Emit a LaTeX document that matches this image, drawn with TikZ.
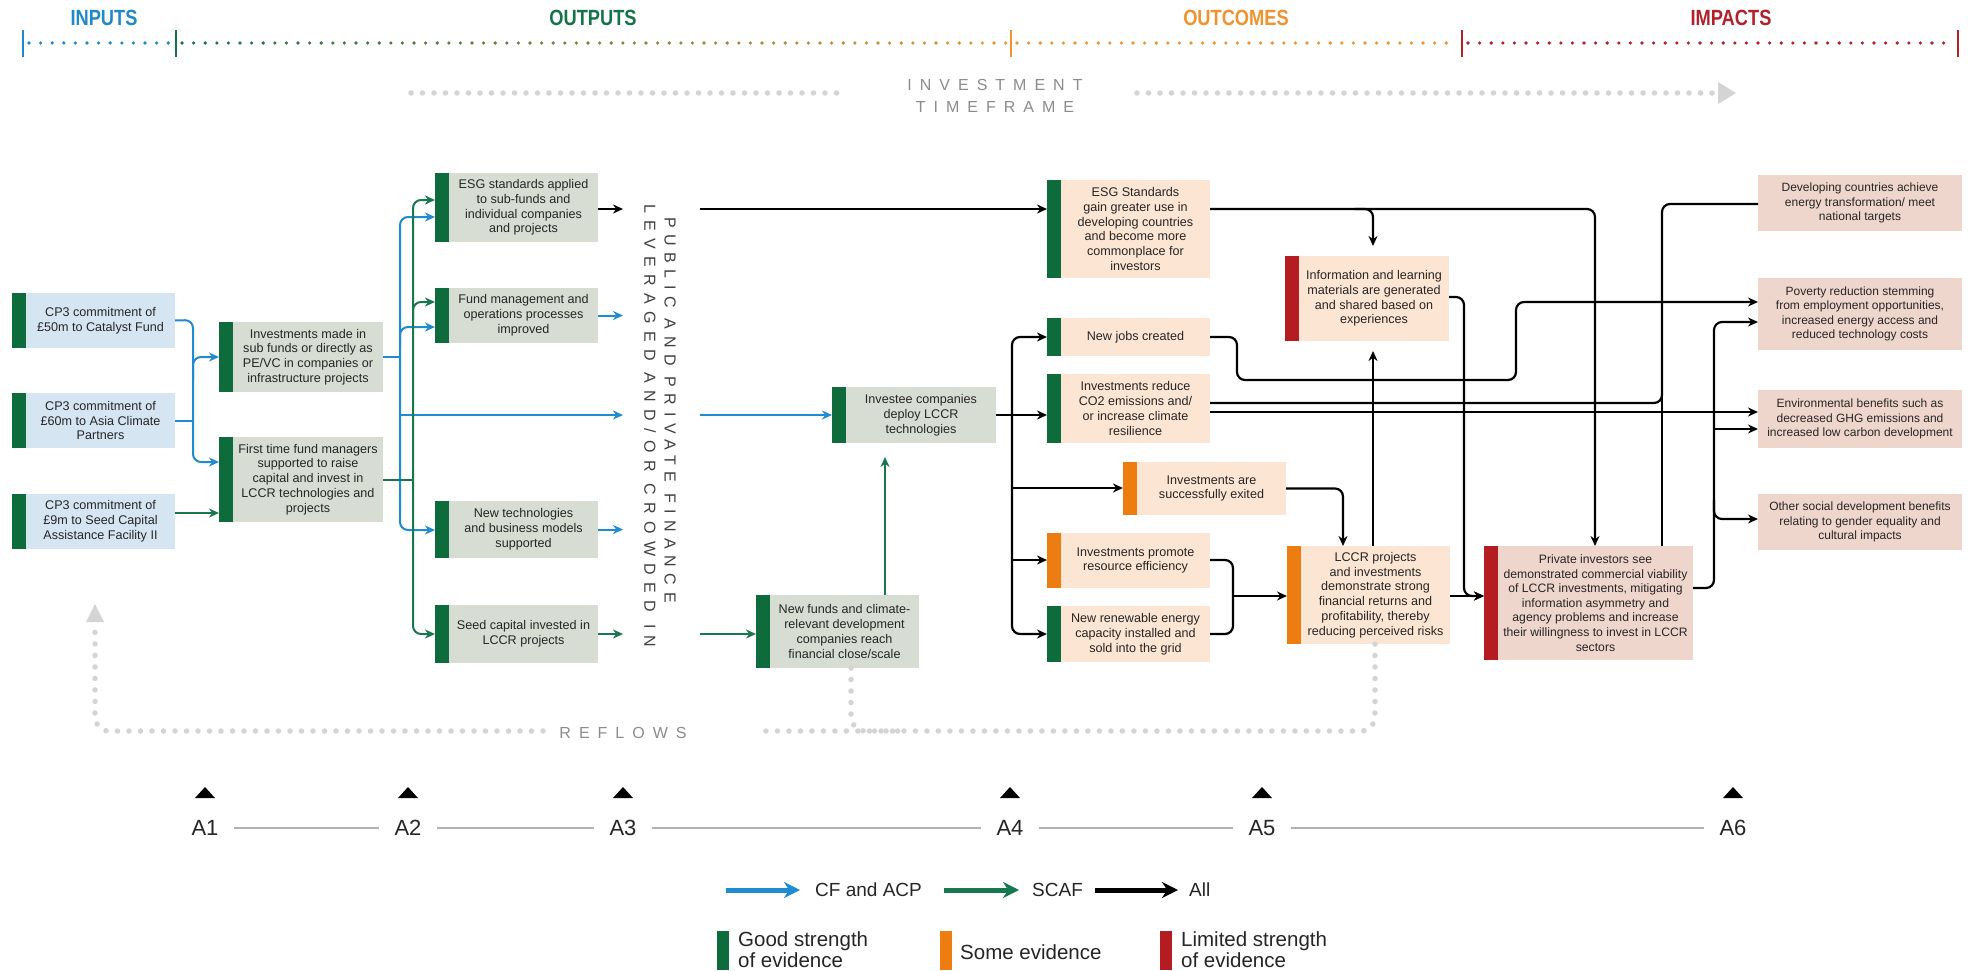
\documentclass[tikz,border=0pt]{standalone}
\usepackage{fontspec}
\setmainfont{Liberation Sans}
\newfontfamily\spacedfontA[LetterSpace=41]{Liberation Sans}
\newfontfamily\spacedfontB[LetterSpace=46]{Liberation Sans}
\newfontfamily\widefont[LetterSpace=50]{Liberation Sans}
\usetikzlibrary{arrows.meta}
\definecolor{cfblue}{HTML}{1F8BD0}
\definecolor{scgreen}{HTML}{17774F}
\definecolor{evgreen}{HTML}{0D6B3C}
\definecolor{evorange}{HTML}{EE7D11}
\definecolor{evred}{HTML}{B51C22}
\definecolor{inbox}{HTML}{D6E5F2}
\definecolor{outbox}{HTML}{D8DDD4}
\definecolor{ocbox}{HTML}{FCE5D3}
\definecolor{imbox}{HTML}{EFD6CC}
\definecolor{hblue}{HTML}{2089C9}
\definecolor{hgreen}{HTML}{15734A}
\definecolor{horange}{HTML}{F0922E}
\definecolor{hred}{HTML}{B3202A}
\definecolor{dotgray}{HTML}{D4D4D4}
\definecolor{txtgray}{HTML}{8C8C8C}
\tikzset{
  bx/.style={inner sep=0pt, outer sep=0pt, anchor=north west, font=\fontsize{12.6}{14.8}\selectfont, text=black!85},
  bar/.style={path picture={\fill[#1] (path picture bounding box.north west) rectangle ([xshift=14pt]path picture bounding box.south west);}},
  cfl/.style={draw=cfblue, line width=2pt, rounded corners=8pt},
  scl/.style={draw=scgreen, line width=2pt, rounded corners=8pt},
  bkl/.style={draw=black, line width=2.2pt, rounded corners=8pt},
  arr/.style={-{Stealth[length=10pt,width=9pt]}},
  arrb/.style={{Stealth[length=10pt,width=9pt]}-{Stealth[length=10pt,width=9pt]}},
  dotg/.style={draw=dotgray, line width=5.5pt, line cap=round, dash pattern=on 0pt off 11.5pt, rounded corners=14pt},
  hdr/.style={font=\fontsize{22}{22}\selectfont\bfseries},
  lg/.style={font=\fontsize{19}{20}\selectfont, text=black!85, align=left, inner sep=0pt},
  lg2/.style={font=\fontsize{20.5}{21}\selectfont, text=black!85, align=left, inner sep=0pt},
  alab/.style={font=\fontsize{22}{22}\selectfont, text=black!85},
  legarr/.style={line width=5pt, -{Stealth[length=16pt,width=16pt]}},
  vtext/.style={rotate=-90, text=black!75, inner sep=0pt},
}
\newcommand\bxn[8]{\node[bx, fill=#6, bar=#7, minimum width=#4pt, minimum height=#5pt] (#1) at (#2,#3) {\hspace*{14pt}\parbox{\dimexpr#4pt-14pt\relax}{\centering #8}};}
\newcommand\imn[6]{\node[bx, fill=imbox, minimum width=#4pt, minimum height=#5pt, font=\fontsize{12}{14.5}\selectfont] (#1) at (#2,#3) {\parbox{#4pt}{\centering #6}};}
\begin{document}
\begin{tikzpicture}[x=1pt,y=-1pt]
\useasboundingbox (0,0) rectangle (1981,971);
\fill[white] (0,0) rectangle (1981,971);
% ---------- header ----------
\node[hdr, text=hblue] (hin) at (104,18) {\scalebox{0.83}[1]{INPUTS}};
\node[hdr, text=hgreen] (hout) at (593,18) {\scalebox{0.83}[1]{OUTPUTS}};
\node[hdr, text=horange] (hoc) at (1236,18) {\scalebox{0.83}[1]{OUTCOMES}};
\node[hdr, text=hred] (him) at (1731,18) {\scalebox{0.83}[1]{IMPACTS}};
\foreach \i in {0,...,12} {\fill[hblue] ({29+\i*11.6},43) circle (1.8);}
\foreach \i in {0,...,71} {\pgfmathtruncatemacro\p{100*\i/71}\fill[horange!\p!hgreen] ({182+\i*11.6},43) circle (1.8);}
\foreach \i in {0,...,37} {\fill[horange] ({1017+\i*11.6},43) circle (1.8);}
\foreach \i in {0,...,41} {\fill[hred] ({1468+\i*11.6},43) circle (1.8);}
\draw[hblue, line width=2pt] (23,30) -- (23,57);
\draw[hgreen, line width=2pt] (176,30) -- (176,57);
\draw[horange, line width=2pt] (1011,30) -- (1011,57);
\draw[hred, line width=2pt] (1462,30) -- (1462,57);
\draw[hred, line width=2pt] (1958,30) -- (1958,57);
% ---------- investment timeframe ----------
\node[align=center, text=txtgray, font=\widefont\fontsize{16}{22}\selectfont] (itf) at (995,96) {INVESTMENT\\TIMEFRAME};
\draw[dotg] (411,93) -- (842,93);
\draw[dotg] (1137,93) -- (1712,93);
\fill[dotgray] (1718,82) -- (1736,93) -- (1718,104) -- cycle;
% ---------- inputs ----------
\bxn{in1}{12}{293}{163}{55}{inbox}{evgreen}{CP3 commitment of\\£50m to Catalyst Fund}
\bxn{in2}{12}{393}{163}{55}{inbox}{evgreen}{CP3 commitment of\\£60m to Asia Climate\\Partners}
\bxn{in3}{12}{494}{163}{55}{inbox}{evgreen}{CP3 commitment of\\£9m to Seed Capital\\Assistance Facility II}
% ---------- outputs ----------
\bxn{inv}{219}{322}{164}{70}{outbox}{evgreen}{Investments made in\\sub funds or directly as\\PE/VC in companies or\\infrastructure projects}
\bxn{ftm}{219}{437}{164}{85}{outbox}{evgreen}{First time fund managers\\supported to raise\\capital and invest in\\LCCR technologies and\\projects}
\bxn{esga}{435}{173}{163}{69}{outbox}{evgreen}{ESG standards applied\\to sub-funds and\\individual companies\\and projects}
\bxn{fund}{435}{288}{163}{55}{outbox}{evgreen}{Fund management and\\operations processes\\improved}
\bxn{newt}{435}{501}{163}{57}{outbox}{evgreen}{New technologies\\and business models\\supported}
\bxn{seed}{435}{605}{163}{58}{outbox}{evgreen}{Seed capital invested in\\LCCR projects}
\bxn{newf}{756}{595}{163}{73}{outbox}{evgreen}{New funds and climate-\\relevant development\\companies reach\\financial close/scale}
\bxn{invest}{832}{387}{164}{56}{outbox}{evgreen}{Investee companies\\deploy LCCR\\technologies}
\node[vtext, font=\spacedfontA\fontsize{16}{20}\selectfont] (pub1) at (670,410) {PUBLIC AND PRIVATE FINANCE};
\node[vtext, font=\spacedfontB\fontsize{16}{20}\selectfont] (pub2) at (650,426) {LEVERAGED AND/OR CROWDED IN};
\coordinate (pubL) at (623,424);
\coordinate (pubR) at (700,424);
% ---------- outcomes ----------
\bxn{esgs}{1047}{180}{163}{98}{ocbox}{evgreen}{ESG Standards\\gain greater use in\\developing countries\\and become more\\commonplace for\\investors}
\bxn{jobs}{1047}{318}{163}{38}{ocbox}{evgreen}{New jobs created}
\bxn{co2}{1047}{374}{163}{69}{ocbox}{evgreen}{Investments reduce\\CO2 emissions and/\\or increase climate\\resilience}
\bxn{exit}{1123}{462}{163}{53}{ocbox}{evorange}{Investments are\\successfully exited}
\bxn{promo}{1047}{533}{163}{55}{ocbox}{evorange}{Investments promote\\resource efficiency}
\bxn{renew}{1047}{606}{163}{56}{ocbox}{evgreen}{New renewable energy\\capacity installed and\\sold into the grid}
\bxn{lccr}{1287}{546}{163}{98}{ocbox}{evorange}{LCCR projects\\and investments\\demonstrate strong\\financial returns and\\profitability, thereby\\reducing perceived risks}
\bxn{info}{1285}{256}{164}{85}{ocbox}{evred}{Information and learning\\materials are generated\\and shared based on\\experiences}
\bxn{priv}{1484}{546}{209}{114}{imbox}{evred}{\fontsize{12.2}{14.6}\selectfont Private investors see\\demonstrated commercial viability\\of LCCR investments, mitigating\\information asymmetry and\\agency problems and increase\\their willingness to invest in LCCR\\sectors}
% ---------- impacts ----------
\imn{dev}{1758}{175}{204}{56}{Developing countries achieve\\energy transformation/ meet\\national targets}
\imn{pov}{1758}{278}{204}{72}{Poverty reduction stemming\\from employment opportunities,\\increased energy access and\\reduced technology costs}
\imn{env}{1758}{390}{204}{58}{Environmental benefits such as\\decreased GHG emissions and\\increased low carbon development}
\imn{oth}{1758}{494}{204}{56}{Other social development benefits\\relating to gender equality and\\cultural impacts}
% ---------- input connectors ----------
\draw[cfl, arr] (in1.east) -- (193,320) -- (193,462) -- (ftm.west |- 0,462);
\draw[cfl, arr] (193,380) -- (193,357) -- (inv.west |- 0,357);
\draw[cfl] (in2.east) -- (193,420.5);
\draw[scl, arr] (in3.east |- 0,513) -- (ftm.west |- 0,513);
% ---------- output connectors ----------
\draw[cfl] (inv.east) -- (400,357);
\draw[cfl, arrb] (esga.west |- 0,217) -- (400,217) -- (400,530) -- (newt.west |- 0,530);
\draw[cfl, arr] (400,345) -- (400,327) -- (fund.west |- 0,327);
\draw[cfl, arr] (400,415) -- (pubL |- 0,415);
\draw[scl] (ftm.east |- 0,480) -- (413,480);
\draw[scl, arrb] (esga.west |- 0,200) -- (413,200) -- (413,634) -- (seed.west |- 0,634);
\draw[scl, arr] (413,320) -- (413,302) -- (fund.west |- 0,302);
\draw[bkl, arr] (esga.east |- 0,209) -- (pubL |- 0,209);
\draw[cfl, arr] (fund.east) -- (pubL |- fund.east);
\draw[cfl, arr] (newt.east) -- (pubL |- newt.east);
\draw[scl, arr] (seed.east) -- (pubL |- seed.east);
\draw[bkl, arr] (pubR |- 0,209) -- (esgs.west |- 0,209);
\draw[cfl, arr] (pubR |- 0,415) -- (invest.west |- 0,415);
\draw[scl, arr] (pubR |- seed.east) -- (newf.west |- seed.east);
\draw[scl, arr, shorten >=14pt] (newf.north -| 885,0) -- (invest.south -| 885,0);
% ---------- outcome connectors ----------
\draw[bkl, arr] (invest.east |- 0,415) -- (co2.west |- 0,415);
\draw[bkl, arrb] (jobs.west) -- (1012,337) -- (1012,634) -- (renew.west |- 0,634);
\draw[bkl, arr] (1012,488) -- (exit.west |- 0,488);
\draw[bkl, arr] (1012,560) -- (promo.west |- 0,560);
\draw[bkl, arr] (esgs.east |- 0,209) -- (1595,209) -- (1595,0 |- priv.north);
\draw[bkl, arr, shorten >=10pt] (1355,209) -- (1373,209) -- (1373,0 |- info.north);
\draw[bkl, arr, shorten >=10pt] (1373,0 |- lccr.north) -- (1373,0 |- info.south);
\draw[bkl, arr] (info.east |- 0,297) -- (1464,297) -- (1464,596) -- (priv.west |- 0,596);
\draw[bkl, arr] (lccr.east |- 0,596) -- (priv.west |- 0,596);
\draw[bkl, arr] (exit.east) -- (1343,488.5) -- (1343,0 |- lccr.north);
\draw[bkl] (promo.east |- 0,560) -- (1233,560) -- (1233,634) -- (renew.east |- 0,634);
\draw[bkl, arr] (1233,596) -- (lccr.west |- 0,596);
\draw[bkl, arr] (jobs.east) -- (1237,337) -- (1237,380) -- (1516,380) -- (1516,302) -- (pov.west |- 0,302);
\draw[bkl] (co2.east |- 0,403) -- (1662,403) -- (1662,204) -- (dev.west |- 0,204);
\draw[bkl] (1662,0 |- priv.north) -- (1662,395);
\draw[bkl, arr] (co2.east |- 0,412) -- (env.west |- 0,412);
\draw[bkl, arr] (priv.east |- 0,588) -- (1714,588) -- (1714,322) -- (pov.west |- 0,322);
\draw[bkl, arr] (1714,429) -- (env.west |- 0,429);
\draw[bkl, arr] (1714,500) -- (1714,519) -- (oth.west |- 0,519);
% ---------- reflows ----------
\node[text=txtgray, font=\widefont\fontsize{16}{16}\selectfont] (refl) at (623,733) {REFLOWS};
\draw[dotg] (543,731) -- (95,731) -- (95,628);
\fill[dotgray] (86,622) -- (95,604) -- (104,622) -- cycle;
\draw[dotg] (lccr.south -| 1375,0) -- (1375,731) -- (764,731);
\draw[dotg] (newf.south -| 851,0) -- (851,731) -- (900,731);
% ---------- timeline ----------
\foreach \x/\l in {205/A1,408/A2,623/A3,1010/A4,1262/A5,1733/A6} {
  \fill[black] (\x-10,798) -- (\x,787) -- (\x+10,798) -- cycle;
  \node[alab] (lab\l) at (\x,828) {\l};
}
\draw[black!30, line width=1.5pt] ([xshift=12pt]labA1.east) -- ([xshift=-12pt]labA2.west);
\draw[black!30, line width=1.5pt] ([xshift=12pt]labA2.east) -- ([xshift=-12pt]labA3.west);
\draw[black!30, line width=1.5pt] ([xshift=12pt]labA3.east) -- ([xshift=-12pt]labA4.west);
\draw[black!30, line width=1.5pt] ([xshift=12pt]labA4.east) -- ([xshift=-12pt]labA5.west);
\draw[black!30, line width=1.5pt] ([xshift=12pt]labA5.east) -- ([xshift=-12pt]labA6.west);
% ---------- legend ----------
\draw[cfblue, legarr] (726,890) -- (800,890);
\node[lg, anchor=west] (lcf) at (815,890) {CF and ACP};
\draw[scgreen, legarr] (944,890) -- (1019,890);
\node[lg, anchor=west] (lsc) at (1032,890) {SCAF};
\draw[black, legarr] (1095,890) -- (1178,890);
\node[lg, anchor=west] (lall) at (1189,890) {All};
\fill[evgreen] (717,931) rectangle (729,970);
\node[lg2, anchor=west] (lgood) at (738,950) {Good strength\\of evidence};
\fill[evorange] (940,931) rectangle (952,970);
\node[lg2, anchor=west] (lsome) at (960,952) {Some evidence};
\fill[evred] (1160,931) rectangle (1172,970);
\node[lg2, anchor=west] (llim) at (1181,950) {Limited strength\\of evidence};
\end{tikzpicture}
\end{document}
